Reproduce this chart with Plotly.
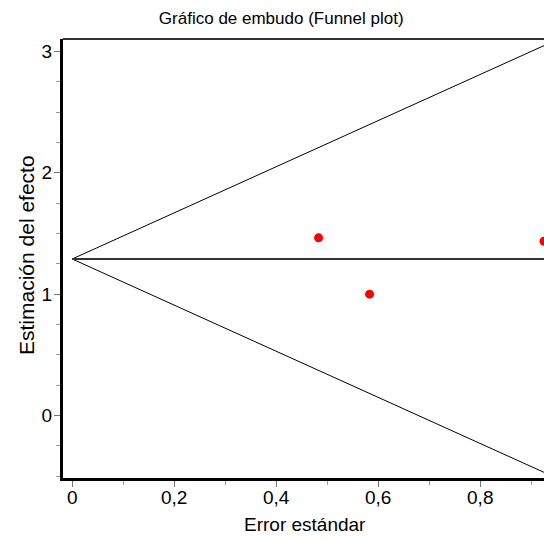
import plotly.graph_objects as go

# Data
se_values = [0.483, 0.583, 0.925]
effect_values = [1.464, 1.0, 1.436]
pooled_effect = 1.29
funnel_se = [0.0, 0.925]
funnel_slope = 1.9
upper_limit = [pooled_effect + funnel_slope * s for s in funnel_se]
lower_limit = [pooled_effect - funnel_slope * s for s in funnel_se]

x_ticks = [0, 0.2, 0.4, 0.6, 0.8]
y_ticks = [0, 1, 2, 3]

FONT = "Liberation Sans"

fig = go.Figure()
fig.add_trace(go.Scatter(x=funnel_se, y=upper_limit, mode="lines",
                         line=dict(color="black", width=1), showlegend=False, hoverinfo="skip"))
fig.add_trace(go.Scatter(x=funnel_se, y=lower_limit, mode="lines",
                         line=dict(color="black", width=1), showlegend=False, hoverinfo="skip"))
fig.add_trace(go.Scatter(x=[0, 1.0], y=[pooled_effect, pooled_effect], mode="lines",
                         line=dict(color="#333333", width=2), showlegend=False, hoverinfo="skip"))
fig.add_trace(go.Scatter(x=se_values, y=effect_values, mode="markers",
                         marker=dict(color="red", size=9, line=dict(width=0)),
                         showlegend=False, cliponaxis=True))

fig.update_layout(
    width=544, height=540,
    margin=dict(l=63, r=0, t=39, b=62),
    paper_bgcolor="white", plot_bgcolor="white",
    separators=",.",
    font=dict(family=FONT, color="black"),
    title=dict(text="Gráfico de embudo (Funnel plot)", x=0.517, xanchor="center",
               y=1 - 18 / 540, yanchor="middle", font=dict(size=17, family=FONT)),
    xaxis=dict(range=[-0.018, 0.925], tickvals=x_ticks, ticktext=["0", "0,2", "0,4", "0,6", "0,8"],
               ticks="outside", ticklen=6, tickcolor="#777777", tickwidth=1,
               ticklabelstandoff=-6,
               showline=True, linecolor="black", linewidth=3, showgrid=False, zeroline=False,
               tickfont=dict(size=19, family=FONT),
               minor=dict(dtick=0.1, tick0=0, ticks="outside", ticklen=4, tickcolor="#999999")),
    yaxis=dict(range=[-0.514, 3.102], tickvals=y_ticks,
               ticks="outside", ticklen=6, tickcolor="#777777", tickwidth=1,
               ticklabelstandoff=-2,
               showline=True, linecolor="black", linewidth=3, showgrid=False, zeroline=False,
               tickfont=dict(size=19, family=FONT),
               minor=dict(dtick=0.25, tick0=0, ticks="outside", ticklen=4, tickcolor="#999999")),
)

# top border
fig.add_shape(type="line", xref="paper", yref="paper", x0=0, x1=1, y0=1, y1=1,
              line=dict(color="#333333", width=2))

fig.add_annotation(text="Error estándar", xref="paper", yref="paper",
                   x=(305 - 63) / 481, y=(478 - 524) / 439, xanchor="center", yanchor="middle",
                   showarrow=False, font=dict(size=19, family=FONT))
fig.add_annotation(text="Estimación del efecto", xref="paper", yref="paper",
                   x=(27 - 63) / 481, y=(478 - 255) / 439, xanchor="center", yanchor="middle",
                   textangle=-90, showarrow=False, font=dict(size=21, family=FONT))

fig.write_html("out.html")
